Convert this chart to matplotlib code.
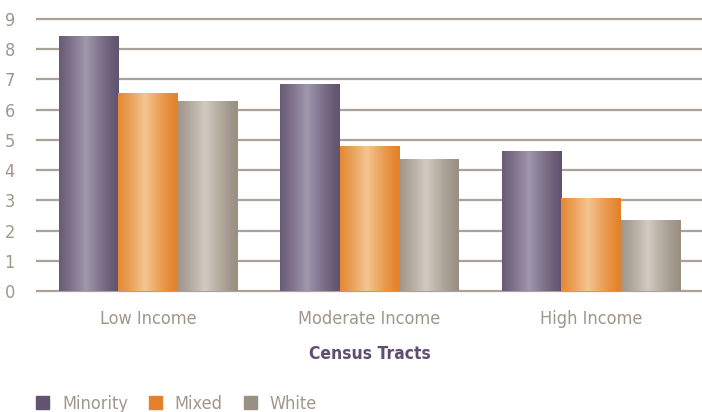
import numpy as np
import matplotlib.pyplot as plt
from matplotlib.colors import LinearSegmentedColormap
from matplotlib.patches import Patch

# Data
groups = ["Low Income", "Moderate Income", "High Income"]
series = ["Minority", "Mixed", "White"]
minority = [8.42, 6.82, 4.60]
mixed = [6.52, 4.77, 3.05]
white = [6.26, 4.34, 2.32]

# edge / highlight colours for the shaded bars
edge_cols = ["#62546f", "#e3822a", "#9a8f83"]
mid_cols = ["#a098ad", "#f4c591", "#d2cbc3"]

font = ["DejaVu Sans"]
grey = "#a0968c"

fig = plt.figure(figsize=(7.02, 4.12), dpi=100)
ax = fig.add_axes([37 / 702, 1 - 291 / 412, 665 / 702, 272 / 412])

x = np.arange(len(groups))
width = 0.268
values = [minority, mixed, white]

# horizontal gradient profile (dark edges, light band left of centre)
t = np.linspace(0, 1, 200)
prof = np.clip(1 - np.abs(t - 0.45) / 0.55, 0, 1) ** 1.3
grad = prof[np.newaxis, :]

for i, vals in enumerate(values):
    cmap = LinearSegmentedColormap.from_list("c%d" % i, [edge_cols[i], mid_cols[i]])
    bars = ax.bar(x + (i - 1) * width, vals, width, color="none", zorder=3)
    for b in bars:
        x0, y0 = b.get_x(), b.get_y()
        ax.imshow(grad, cmap=cmap, vmin=0, vmax=1, aspect="auto",
                  extent=(x0, x0 + b.get_width(), y0, y0 + b.get_height()),
                  zorder=3, interpolation="bilinear")

ax.set_xlim(-0.5, 2.5)
ax.set_ylim(0, 9)
ax.set_yticks(range(10))
ax.yaxis.grid(True, color="#aaa198", linewidth=1.6, zorder=1)
ax.set_axisbelow(True)
for gl in ax.get_ygridlines():
    gl.set_clip_on(False)
for s in ax.spines.values():
    s.set_visible(False)
ax.tick_params(axis="both", length=0, colors=grey)
ax.tick_params(axis="y", pad=16)
ax.tick_params(axis="x", pad=14)
ax.set_xticks(x)
ax.set_xticklabels(groups, fontsize=13, family=font, stretch="condensed", color=grey)
for lab in ax.get_yticklabels():
    lab.set_fontsize(13)
    lab.set_family(font)
    lab.set_stretch("condensed")
    lab.set_color(grey)

ax.set_xlabel("Census Tracts", fontsize=12.5, fontweight="bold", family=font,
              stretch="condensed", color="#5e4e72", labelpad=12)

handles = [Patch(color=c, label=s) for c, s in zip(edge_cols, series)]
leg = fig.legend(handles=handles, loc="lower left", bbox_to_anchor=(36 / 702, -0.002),
                 ncol=3, frameon=False, borderpad=0, borderaxespad=0,
                 handlelength=0.72, handleheight=0.72,
                 columnspacing=1.15, handletextpad=0.72,
                 prop={"family": font, "size": 13, "stretch": "condensed"})
for txt in leg.get_texts():
    txt.set_color(grey)

plt.savefig("out.png", dpi=100)
